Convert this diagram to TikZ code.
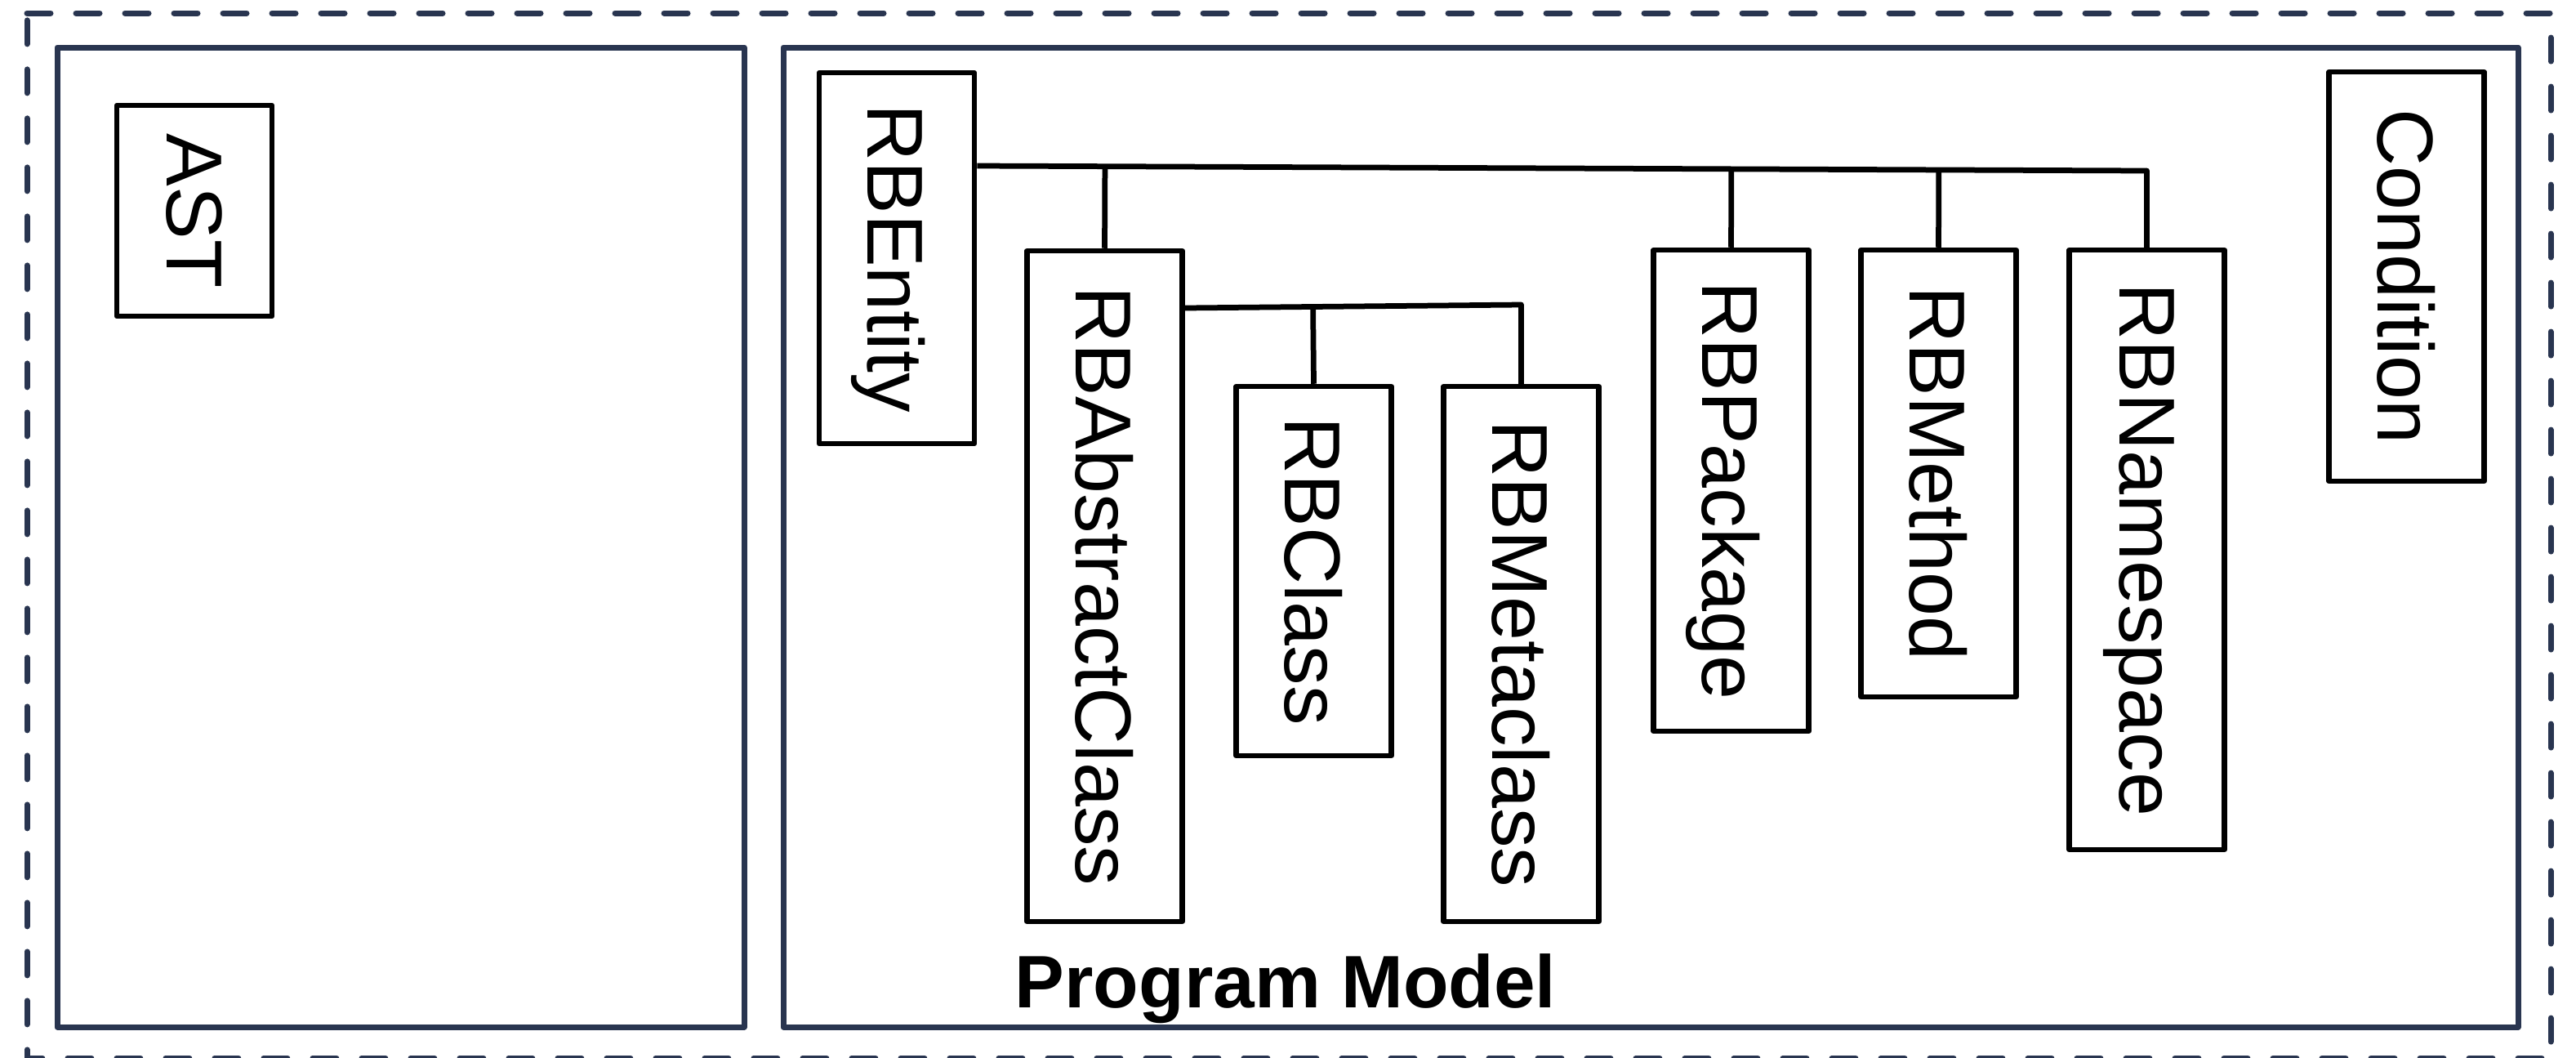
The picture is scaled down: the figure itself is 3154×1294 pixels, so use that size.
\documentclass[tikz,border=0pt]{standalone}
\usepackage{fontspec}
\setmainfont{Liberation Sans}
\usepackage{graphicx}
\usetikzlibrary{calc}
\definecolor{panelblue}{RGB}{41,53,80}
% vertical label: text reads top to bottom, centred on its letters (no descender)
\newcommand{\vlabel}[1]{\rotatebox{-90}{\raisebox{0pt}[\height][0pt]{#1}}}
\tikzset{
  classbox/.style={draw=black, line width=1.3pt, line join=round, inner sep=0pt,
    minimum width=38pt, font=\fontsize{19.4}{20}\selectfont},
  panel/.style={draw=panelblue, line width=1.4pt, line join=round},
  outerframe/.style={draw=panelblue, line width=1.4pt, line cap=round, line join=round,
    dash pattern=on 5.8pt off 6.2pt},
  link/.style={draw=black, line width=1.35pt, line join=round},
}
\begin{document}
\begin{tikzpicture}[x=0.2pt, y=-0.2pt]
  \useasboundingbox (0,0) rectangle (3154,1294);

  % outer dashed frame
  \draw[outerframe] (33,16) -- (3123,16) -- (3123,1295) -- (33,1295) -- cycle;

  % the two panels
  \draw[panel] (70,58) rectangle (911,1257);
  \draw[panel] (959,58) rectangle (3083,1257);

  % AST panel
  \node[classbox, minimum height=51.6pt] (ast) at (238,258) {\vlabel{AST}};

  % program model classes
  \node[classbox, minimum height=90.8pt]  (ent)  at (1098,316)    {\vlabel{RBEntity}};
  \node[classbox, minimum height=164.2pt] (abs)  at (1352.5,717.5) {\vlabel{RBAbstractClass}};
  \node[classbox, minimum height=90.4pt]  (cls)  at (1608.5,699)  {\vlabel{RBClass}};
  \node[classbox, minimum height=131pt]   (meta) at (1862.5,800.5) {\vlabel{RBMetaclass}};
  \node[classbox, minimum height=117.8pt] (pkg)  at (2119.5,600.5) {\vlabel{RBPackage}};
  \node[classbox, minimum height=109.4pt] (meth) at (2373.5,579.5) {\vlabel{RBMethod}};
  \node[classbox, minimum height=146.8pt] (ns)   at (2628.5,673)  {\vlabel{RBNamespace}};
  \node[classbox, minimum height=100.2pt] (cond) at (2946.5,338.5) {\vlabel{Condition}};

  \node[font=\bfseries\fontsize{18.2}{20}\selectfont, anchor=base, inner sep=0pt]
    (pmtitle) at (1574,1233) {Program Model};

  % inheritance bars (drawn with a slight slope)
  \coordinate (topL) at (ent.east |- 0,203);
  \coordinate (topR) at (ns.north |- 0,209);
  \draw[link] (topL) -- (topR) -- (ns.north);
  \draw[link] (abs.north) -- ($(topL)!(abs.north)!(topR)$);
  \draw[link] (pkg.north) -- ($(topL)!(pkg.north)!(topR)$);
  \draw[link] (meth.north) -- ($(topL)!(meth.north)!(topR)$);

  \coordinate (midL) at (abs.east |- 0,377);
  \coordinate (midR) at (meta.north |- 0,373);
  \draw[link] (midL) -- (midR) -- (meta.north);
  \draw[link] (cls.north) -- ($(midL)!(cls.north)!(midR)$);
\end{tikzpicture}
\end{document}
